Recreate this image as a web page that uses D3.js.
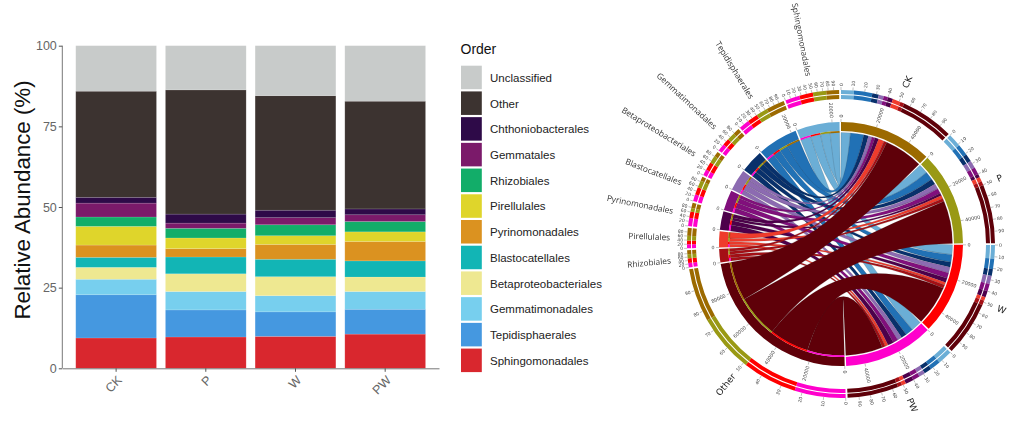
<!DOCTYPE html>
<html><head><meta charset="utf-8">
<script src="https://cdn.jsdelivr.net/npm/d3@7"></script>
<style>html,body{margin:0;padding:0;background:#fff}svg{display:block}</style>
</head><body><svg id="c" width="1021" height="435"></svg>
<script>
const samples = ["CK","P","W","PW"];
// percent heights per sample (CK, P, W, PW), bottom to top of stack
const sphingomonadales = [9.4,9.7,9.9,10.6];
const tepidisphaerales = [13.4,8.4,7.6,7.7];
const gemmatimonadales = [4.8,5.7,5.0,5.5];
const betaproteobacteriales = [3.7,5.5,5.9,4.5];
const blastocatellales = [3.1,5.2,5.4,5.0];
const pyrinomonadales = [3.8,2.6,4.6,6.0];
const pirellulales = [5.8,3.3,2.7,3.0];
const rhizobiales = [2.9,3.0,3.4,3.2];
const gemmatales = [4.3,1.6,2.2,2.1];
const chthoniobacterales = [1.8,2.8,2.3,1.8];
const other = [32.9,38.5,35.5,33.4];
const unclassified = [14.1,13.7,15.5,17.2];
const orderNames = ["Sphingomonadales","Tepidisphaerales","Gemmatimonadales","Betaproteobacteriales","Blastocatellales","Pyrinomonadales","Pirellulales","Rhizobiales","Gemmatales","Chthoniobacterales","Other","Unclassified"];
const orderValues = [sphingomonadales,tepidisphaerales,gemmatimonadales,betaproteobacteriales,blastocatellales,pyrinomonadales,pirellulales,rhizobiales,gemmatales,chthoniobacterales,other,unclassified];
const orderColors = ["#d9272e","#4598e0","#77cfee","#eee891","#12b5b5","#db9220","#dfd52b","#12ad69","#7b1a6a","#2e0a48","#3c3330","#c8cbca"];
const yTicks = [0,25,50,75,100];

// chord diagram
const sampleColors = ["#9c6a00","#999914","#ff0000","#ff00cc"];
const chordOrders = ["Sphingomonadales","Tepidisphaerales","Gemmatimonadales","Betaproteobacteriales","Blastocatellales","Pyrinomonadales","Pirellulales","Rhizobiales","Other"];
const chordColors = ["#6baed6","#2171b5","#08306b","#8c6bb1","#810f7c","#4d004b","#ef3b2c","#a50f15","#5f0009"];
const readsPerPercent = 610;

const svg = d3.select("#c");
const sans = "'Liberation Sans',Arial,sans-serif";

/* ---------- stacked bars ---------- */
const x = d3.scaleBand().domain(samples).range([62.3,439]).paddingInner(.1).paddingOuter(.15);
const y = d3.scaleLinear().domain([0,100]).range([368.3,45.7]);
const bars = svg.append("g");
const stack = d3.stack().keys(d3.range(orderNames.length)).value((d,k)=>orderValues[k][d])(d3.range(samples.length));
stack.forEach((ser,k)=>{
  bars.selectAll(null).data(ser).join("rect")
    .attr("x",(d,i)=>x(samples[i])).attr("width",x.bandwidth())
    .attr("y",d=>y(Math.min(d[1],100))).attr("height",d=>y(d[0])-y(Math.min(d[1],100)))
    .attr("fill",orderColors[k]).attr("stroke","#fff").attr("stroke-opacity",.18).attr("stroke-width",.7);
});
const axY = svg.append("g").attr("transform","translate(62.3,0)").call(d3.axisLeft(y).tickValues(yTicks).tickSize(3.5).tickPadding(2));
const axX = svg.append("g").attr("transform","translate(0,368.3)").call(d3.axisBottom(x).tickSize(3.5).tickSizeOuter(0));
[axY,axX].forEach(a=>{a.select(".domain").attr("stroke","#777").attr("stroke-width",1);a.selectAll(".tick line").attr("stroke","#555");a.selectAll("text").attr("fill","#666").attr("font-family",sans).attr("font-size",12.5)});
axY.select(".domain").attr("d","M0,45.7V368.3");
axX.selectAll("text").attr("text-anchor","end").attr("dy",0).attr("y",0).attr("transform","translate(1,7) rotate(-45) translate(0,8)");
svg.append("text").attr("transform","translate(30,200) rotate(-90)").attr("text-anchor","middle")
  .attr("font-family",sans).attr("font-size",22.3).attr("fill","#111").text("Relative Abundance (%)");

/* ---------- legend ---------- */
const leg = svg.append("g");
leg.append("text").attr("x",460.5).attr("y",54).attr("font-family",sans).attr("font-size",14).attr("fill","#111").text("Order");
const legendOrder = d3.range(orderNames.length).reverse();
const ly = d3.scaleBand().domain(legendOrder).range([65,373.6]);
leg.selectAll("rect").data(legendOrder).join("rect").attr("x",461).attr("width",20.8).attr("y",d=>ly(d)+.7).attr("height",ly.bandwidth()-2.2).attr("fill",d=>orderColors[d]);
leg.selectAll("text.l").data(legendOrder).join("text").attr("class","l").attr("x",490).attr("y",d=>ly(d)+ly.bandwidth()/2+4)
  .attr("font-family",sans).attr("font-size",11.5).attr("fill","#222").text(d=>orderNames[d]);

/* ---------- chord ---------- */
const cx=841, cy=244;
const g = svg.append("g").attr("transform",`translate(${cx},${cy})`).style("filter","blur(.3px)");
const ns = samples.length;
// flow[s][o] in percent; "Other" pools the orders not shown individually
const flow = samples.map((_,s)=>chordOrders.map((_,o)=> o<8 ? orderValues[o][s] : gemmatales[s]+chthoniobacterales[s]+other[s]));
const sampleTotals = flow.map(r=>d3.sum(r));
const orderTotals = chordOrders.map((_,o)=>d3.sum(flow,r=>r[o]));
const grand = d3.sum(sampleTotals)+d3.sum(orderTotals);
const gap = 0.7*Math.PI/180;
const angle = d3.scaleLinear().domain([0,grand]).range([0,2*Math.PI-13*gap]);
const ringOrder = d3.range(chordOrders.length).reverse(); // Other first, clockwise
const sectors=[]; let cur=0;
samples.forEach((n,s)=>{const w=angle(sampleTotals[s]);sectors.push({name:n,kind:"s",idx:s,a0:cur,a1:cur+w,total:sampleTotals[s],color:sampleColors[s]});cur+=w+gap;});
ringOrder.forEach(o=>{const w=angle(orderTotals[o]);sectors.push({name:chordOrders[o],kind:"o",idx:o,a0:cur,a1:cur+w,total:orderTotals[o],color:chordColors[o]});cur+=w+gap;});

// ribbon ends
const ribbons=[];
const sampleSect=sectors.filter(d=>d.kind==="s"), orderSect={}; sectors.filter(d=>d.kind==="o").forEach(d=>orderSect[d.idx]=d);
const ends={};
sampleSect.forEach(S=>{let a=S.a0;chordOrders.forEach((_,o)=>{const w=angle(flow[S.idx][o]);ends[S.idx+"_"+o]={startAngle:a,endAngle:a+w};a+=w;});});
chordOrders.forEach((_,o)=>{let a=orderSect[o].a0;d3.range(ns).reverse().forEach(s=>{const w=angle(flow[s][o]);
  ribbons.push({s,o,source:ends[s+"_"+o],target:{startAngle:a,endAngle:a+w}});a+=w;});});
const ribbon=d3.ribbon().radius(111.5);
g.selectAll("path.r").data(ribbons).join("path").attr("class","r").attr("d",ribbon)
  .attr("fill",d=>chordColors[d.o]).attr("stroke","#222").attr("stroke-opacity",.35).attr("stroke-width",.4);

// main ring
const arc=d3.arc();
g.selectAll("path.m").data(sectors).join("path").attr("class","m")
  .attr("d",d=>arc({innerRadius:113,outerRadius:122,startAngle:d.a0,endAngle:d.a1})).attr("fill",d=>d.color);
// thin stacked line on order sectors
const thin=[];
sectors.filter(d=>d.kind==="o").forEach(S=>{let a=S.a0;d3.range(ns).reverse().forEach(s=>{const w=angle(flow[s][S.idx]);thin.push({a0:a,a1:a+w,c:sampleColors[s]});a+=w;});});
g.selectAll("path.t").data(thin).join("path").attr("class","t")
  .attr("d",d=>arc({innerRadius:111.3,outerRadius:113,startAngle:d.a0,endAngle:d.a1})).attr("fill",d=>d.c);

// outer percent rings
const pct=[];
sectors.forEach(S=>{
  const pscale=d3.scaleLinear().domain([0,100]).range([S.a0,S.a1]);
  let acc=0;
  const parts = S.kind==="s" ? chordOrders.map((_,o)=>({v:flow[S.idx][o],c:chordColors[o]}))
                             : d3.range(ns).reverse().map(s=>({v:flow[s][S.idx],c:sampleColors[s]}));
  parts.forEach(p=>{const b=acc+p.v/S.total*100;pct.push({a0:pscale(acc),a1:pscale(b),c:p.c});acc=b;});
});
[[145,149],[150,154]].forEach(([ri,ro],i)=>{
  g.selectAll("path.p"+i).data(pct).join("path").attr("class","p"+i)
    .attr("d",d=>arc({innerRadius:ri,outerRadius:ro,startAngle:d.a0,endAngle:d.a1})).attr("fill",d=>d.c);
});

// radial text and ticks
const deg=a=>a*180/Math.PI;
function radial(sel,a,r,txt,size,fill,fam){
  const A=deg(a); const left=A>180;
  sel.append("text").attr("transform",`rotate(${A-90}) translate(${r},0)`+(left?" rotate(180)":""))
    .attr("text-anchor",left?"end":"start").attr("dy",".35em")
    .attr("font-size",size).attr("fill",fill).attr("font-family",fam||"'DejaVu Sans',sans-serif").text(txt);
}
function tick(sel,a,r0,r1){
  const A=deg(a);
  sel.append("line").attr("transform",`rotate(${A-90})`).attr("x1",r0).attr("x2",r1).attr("stroke","#888").attr("stroke-width",.5);
}
const tg=g.append("g");
sectors.forEach(S=>{
  const count=d3.scaleLinear().domain([0,S.total*readsPerPercent]).range([S.a0,S.a1]);
  d3.range(0,S.total*readsPerPercent,20000).forEach(v=>{tick(tg,count(v),122,125);radial(tg,count(v),126.5,String(v),4.8,"#444");});
  const p=d3.scaleLinear().domain([0,100]).range([S.a0,S.a1]);
  const step=(S.a1-S.a0)<11.5*Math.PI/180?20:10;
  d3.range(0,100,step).forEach(v=>{tick(tg,p(v),154,157);radial(tg,p(v),158,String(v),4.5,"#444");});
  const isSample=S.kind==="s"||S.name==="Other";
  if(isSample) radial(tg,(S.a0+S.a1)/2,169,S.name,9,"#222");
  else radial(tg,(S.a0+S.a1)/2,171,S.name,8.3,"#333","'Open Sans',sans-serif");
});
</script></body></html>
